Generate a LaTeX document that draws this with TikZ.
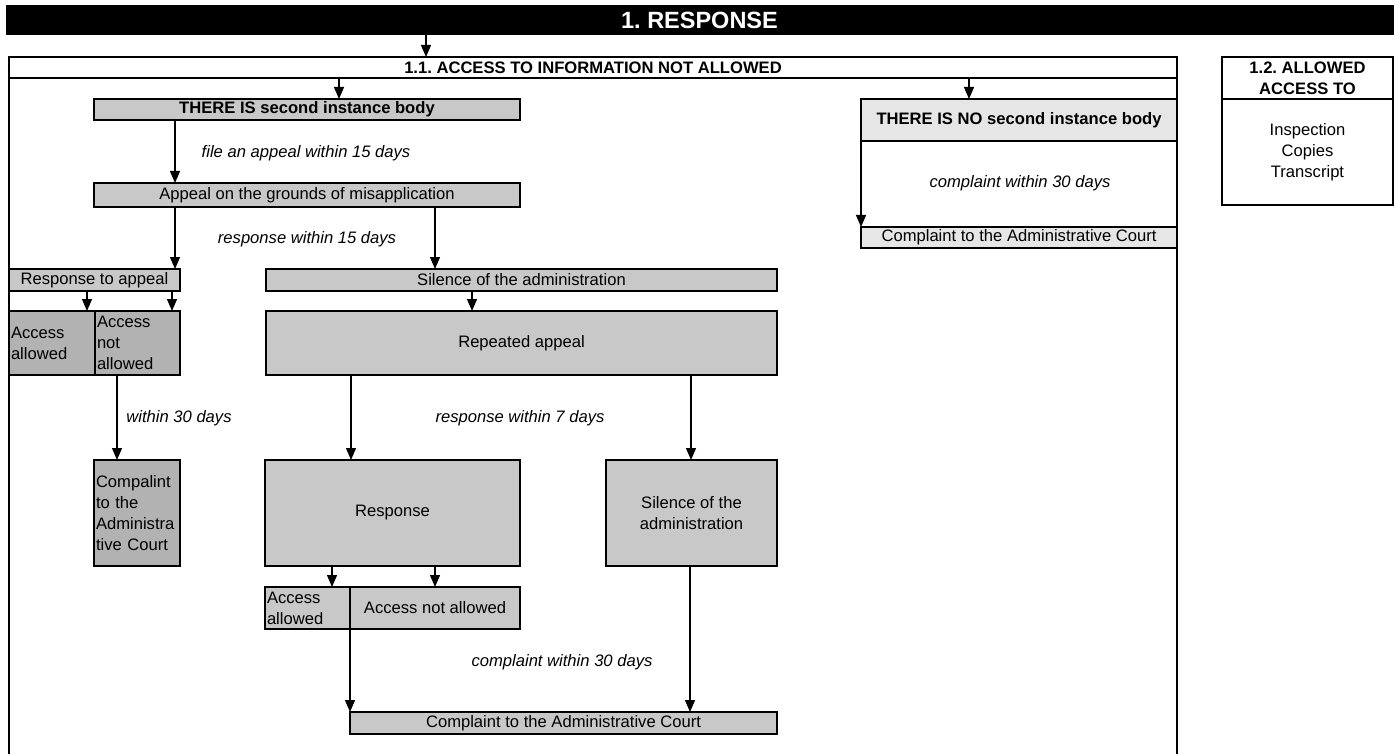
\documentclass[tikz,border=0pt]{standalone}
\usepackage{fontspec}
\setmainfont{Liberation Sans}
\usetikzlibrary{arrows.meta}
\definecolor{boxgray}{HTML}{C8C8C8}
\definecolor{boxdark}{HTML}{B2B2B2}
\definecolor{boxlight}{HTML}{E6E6E6}
\newcommand\bx[7]{\node[#2, anchor=north west, minimum width={#5-#3}, minimum height={#6-#4}] (#1) at (#3,#4) {#7};}
\frenchspacing
\begin{document}
\frenchspacing
\begin{tikzpicture}[x=1pt,y=-1pt,
  every node/.style={font=\fontsize{16.6}{21}\selectfont, inner sep=0pt, outer sep=0pt},
  gbox/.style={draw=black, line width=1.6pt, fill=boxgray},
  dbox/.style={draw=black, line width=1.6pt, fill=boxdark},
  lbox/.style={draw=black, line width=1.6pt, fill=boxlight},
  wbox/.style={draw=black, line width=2pt, fill=white},
  ltext/.style={align=left, text width={#1}},
  bold/.style={font=\fontsize{16.6}{21}\selectfont\bfseries},
  lbl/.style={font=\fontsize{16.6}{21}\selectfont\itshape},
  arr/.style={line width=1.3pt, -{Triangle[length=12pt,width=10pt]}},
  frame/.style={line width=2pt}]
\useasboundingbox (0,0) rectangle (1397,754);
\fill[white] (0,0) rectangle (1397,754);
% x positions for connectors
\foreach \n/\v in {a/426,b/339,c/969,d/175,e/435,f/87,g/172,h/472,i/117,j/351,k/691,l/332,m/435,n/350,o/690,p/861}
  \coordinate (x\n) at (\v,0);
\coordinate (bot) at (0,770);
% banner
\bx{banner}{draw=black, fill=black, line width=1pt, text=white, font=\fontsize{23.5}{26}\selectfont\bfseries}{6}{6}{1393}{35}{1. RESPONSE}
% 1.1 frame
\bx{head11}{wbox, bold}{9}{57}{1177}{78}{1.1. ACCESS TO INFORMATION NOT ALLOWED}
\draw[frame] (head11.south west) -- (head11.south west |- bot);
\draw[frame] (head11.south east) -- (head11.south east |- bot);
% 1.2 box
\bx{head12}{wbox, bold, line width=2.6pt, align=center}{1222}{57}{1393}{99}{1.2. ALLOWED\\ACCESS TO}
\bx{body12}{wbox, line width=2.6pt, align=center}{1222}{99}{1393}{205}{Inspection\\Copies\\Transcript}
% left branch
\bx{there}{gbox, bold}{94}{99}{520}{120}{THERE IS second instance body}
\bx{appeal}{gbox}{94}{183}{520}{207}{Appeal on the grounds of misapplication}
\bx{resp}{gbox}{9}{269}{180}{291}{Response to appeal}
\bx{sil1}{gbox}{266}{269}{777}{291}{Silence of the administration}
\bx{acc1}{dbox, ltext=82pt, inner xsep=2pt}{9}{311}{95}{375}{Access\\allowed}
\bx{nacc1}{dbox, ltext=81pt, inner xsep=2pt}{95}{311}{180}{375}{Access\\not\\allowed}
\bx{rep}{gbox}{266}{311}{777}{375}{Repeated appeal}
\bx{comp1}{dbox, ltext=82pt, inner xsep=2pt}{94}{460}{180}{566}{Compalint\\to the\\Administra\\tive Court}
\bx{response}{gbox}{265}{460}{520}{566}{Response}
\bx{sil2}{gbox, align=center}{606}{460}{777}{566}{Silence of the\\administration}
\bx{acc2}{gbox, ltext=81pt, inner xsep=2pt}{265}{587}{350}{629}{Access\\allowed}
\bx{nacc2}{gbox}{350}{587}{520}{629}{Access not allowed}
\bx{final}{gbox}{350}{712}{777}{734}{Complaint to the Administrative Court}
% right branch
\bx{thereno}{lbox, bold}{861}{99}{1177}{141}{THERE IS NO second instance body}
\bx{comp2}{lbox}{861}{227}{1177}{248}{Complaint to the Administrative Court}
% connectors
\draw[arr] (banner.south -| xa) -- (head11.north -| xa);
\draw[arr] (head11.south -| xb) -- (there.north -| xb);
\draw[arr] (head11.south -| xc) -- (thereno.north -| xc);
\draw[arr] (there.south -| xd) -- (appeal.north -| xd);
\draw[arr] (appeal.south -| xd) -- (resp.north -| xd);
\draw[arr] (appeal.south -| xe) -- (sil1.north -| xe);
\draw[arr] (resp.south -| xf) -- (acc1.north -| xf);
\draw[arr] (resp.south -| xg) -- (nacc1.north -| xg);
\draw[arr] (sil1.south -| xh) -- (rep.north -| xh);
\draw[arr] (nacc1.south -| xi) -- (comp1.north -| xi);
\draw[arr] (rep.south -| xj) -- (response.north -| xj);
\draw[arr] (rep.south -| xk) -- (sil2.north -| xk);
\draw[arr] (response.south -| xl) -- (acc2.north -| xl);
\draw[arr] (response.south -| xm) -- (nacc2.north -| xm);
\draw[arr] (nacc2.south west) -- (final.north west);
\draw[arr] (sil2.south -| xo) -- (final.north -| xo);
\draw[arr] (thereno.south west) -- (comp2.north west);
% labels
\node[lbl] (l1) at (306,153) {file an appeal within 15 days};
\node[lbl] (l2) at (307,239) {response within 15 days};
\node[lbl] (l3) at (179,418) {within 30 days};
\node[lbl] (l4) at (520,418) {response within 7 days};
\node[lbl] (l5) at (562,662) {complaint within 30 days};
\node[lbl] (l6) at (1020,183) {complaint within 30 days};
\end{tikzpicture}
\end{document}
